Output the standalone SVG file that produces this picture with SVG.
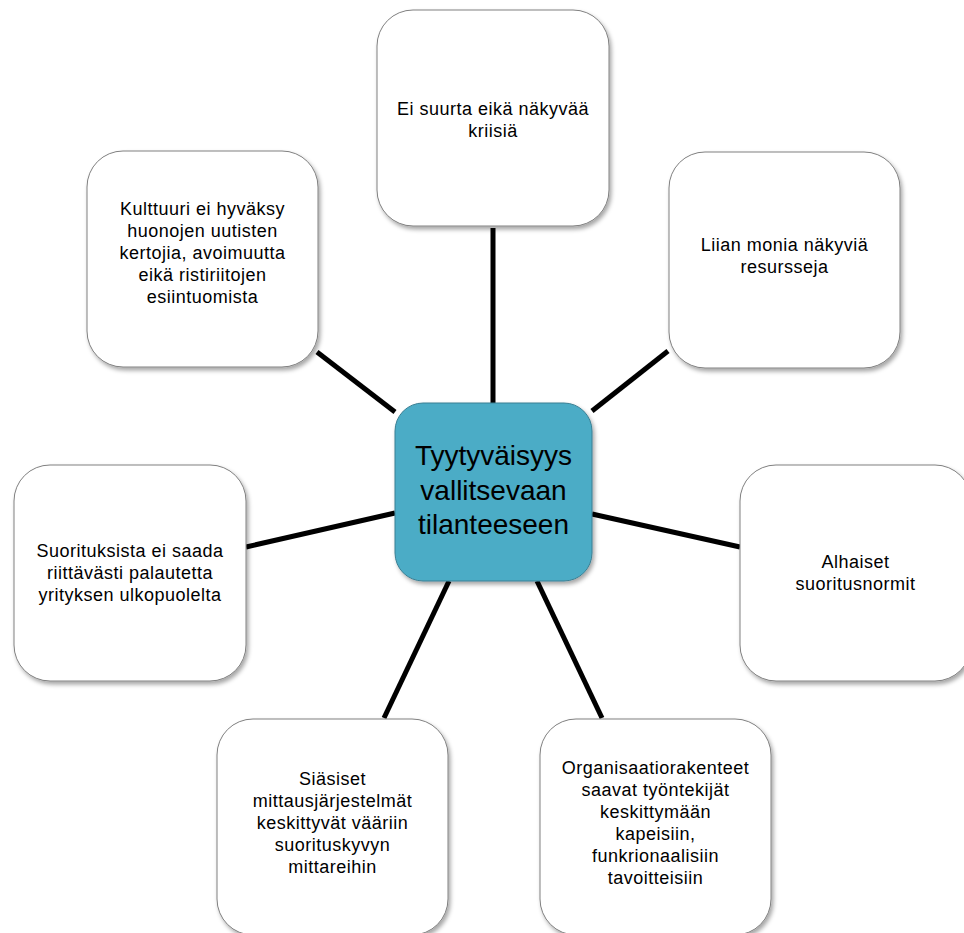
<svg xmlns="http://www.w3.org/2000/svg" width="964" height="933" viewBox="0 0 964 933">
<defs>
<filter id="sh" x="-10%" y="-10%" width="125%" height="125%">
<feDropShadow dx="2" dy="3" stdDeviation="2" flood-color="#000" flood-opacity="0.35"/>
</filter>
<style>
.box{fill:#fff;stroke:#808080;stroke-width:1;filter:url(#sh)}
.center{fill:#4BACC6;stroke:#3a7f93;stroke-width:1;filter:url(#sh)}
.t{font-family:"Liberation Sans",Arial,sans-serif;font-size:18px;letter-spacing:0.5px;fill:#000;text-anchor:middle}
.tc{font-family:"Liberation Sans",Arial,sans-serif;font-size:28px;fill:#000;text-anchor:middle}
.c{stroke:#000;stroke-width:5;fill:none}
</style>
</defs>
<rect width="964" height="933" fill="#fff"/>
<g id="connectors">
<line class="c" x1="493" y1="228" x2="493" y2="403"/>
<line class="c" x1="317" y1="352" x2="395" y2="412"/>
<line class="c" x1="668" y1="351" x2="592" y2="411"/>
<line class="c" x1="246" y1="547" x2="395" y2="513"/>
<line class="c" x1="592" y1="514" x2="740" y2="547"/>
<line class="c" x1="449" y1="581" x2="384" y2="718"/>
<line class="c" x1="537" y1="581" x2="602" y2="718"/>
</g>
<g id="center">
<rect class="center" x="395" y="403" width="197" height="178" rx="28"/>
<text class="tc" x="493.5" y="465">Tyytyväisyys</text>
<text class="tc" x="493.5" y="499.5">vallitsevaan</text>
<text class="tc" x="493.5" y="534">tilanteeseen</text>
</g>
<g id="top">
<rect class="box" x="377" y="10" width="232" height="216" rx="36"/>
<text class="t" x="493" y="115">Ei suurta eikä näkyvää</text>
<text class="t" x="493" y="137">kriisiä</text>
</g>
<g id="topleft">
<rect class="box" x="87" y="151" width="231" height="216" rx="36"/>
<text class="t" x="202.5" y="215">Kulttuuri ei hyväksy</text>
<text class="t" x="202.5" y="237">huonojen uutisten</text>
<text class="t" x="202.5" y="259">kertojia, avoimuutta</text>
<text class="t" x="202.5" y="281">eikä ristiriitojen</text>
<text class="t" x="202.5" y="303">esiintuomista</text>
</g>
<g id="topright">
<rect class="box" x="669" y="152" width="231" height="216" rx="36"/>
<text class="t" x="784.5" y="251">Liian monia näkyviä</text>
<text class="t" x="784.5" y="273">resursseja</text>
</g>
<g id="left">
<rect class="box" x="14" y="465" width="232" height="216" rx="36"/>
<text class="t" x="130" y="557">Suorituksista ei saada</text>
<text class="t" x="130" y="579">riittävästi palautetta</text>
<text class="t" x="130" y="601">yrityksen ulkopuolelta</text>
</g>
<g id="right">
<rect class="box" x="740" y="465" width="231" height="216" rx="36"/>
<text class="t" x="855.5" y="568">Alhaiset</text>
<text class="t" x="855.5" y="590">suoritusnormit</text>
</g>
<g id="bottomleft">
<rect class="box" x="217" y="719" width="231" height="216" rx="36"/>
<text class="t" x="332.5" y="785">Siäsiset</text>
<text class="t" x="332.5" y="807">mittausjärjestelmät</text>
<text class="t" x="332.5" y="829">keskittyvät vääriin</text>
<text class="t" x="332.5" y="851">suorituskyvyn</text>
<text class="t" x="332.5" y="873">mittareihin</text>
</g>
<g id="bottomright">
<rect class="box" x="540" y="719" width="231" height="216" rx="36"/>
<text class="t" x="655.5" y="774">Organisaatiorakenteet</text>
<text class="t" x="655.5" y="796">saavat työntekijät</text>
<text class="t" x="655.5" y="818">keskittymään</text>
<text class="t" x="655.5" y="840">kapeisiin,</text>
<text class="t" x="655.5" y="862">funkrionaalisiin</text>
<text class="t" x="655.5" y="884">tavoitteisiin</text>
</g>
</svg>
